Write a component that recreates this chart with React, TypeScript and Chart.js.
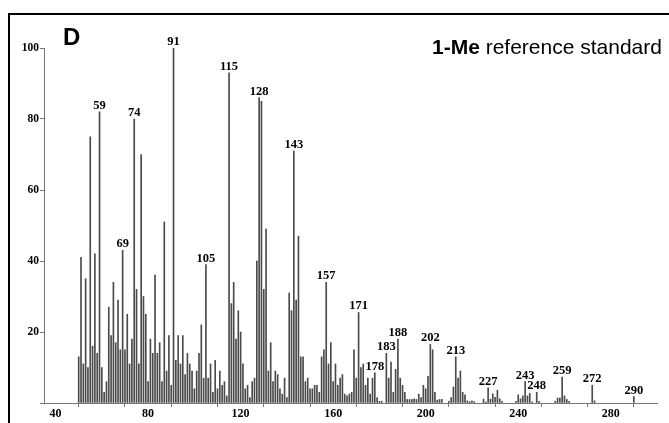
import React, { useEffect, useRef } from "react";
import { Chart, registerables } from "chart.js";

Chart.register(...registerables);

// m/z values and relative abundances (%)
const mz = [
  50, 51, 52, 53, 54, 55, 56, 57, 58, 59, 60, 61, 62, 63, 64, 65, 66, 67, 68, 69,
  70, 71, 72, 73, 74, 75, 76, 77, 78, 79, 80, 81, 82, 83, 84, 85, 86, 87, 88, 89,
  90, 91, 92, 93, 94, 95, 96, 97, 98, 99, 100, 101, 102, 103, 104, 105, 106, 107, 108, 109,
  110, 111, 112, 113, 114, 115, 116, 117, 118, 119, 120, 121, 122, 123, 124, 125, 126, 127, 128, 129,
  130, 131, 132, 133, 134, 135, 136, 137, 138, 139, 140, 141, 142, 143, 144, 145, 146, 147, 148, 149,
  150, 151, 152, 153, 154, 155, 156, 157, 158, 159, 160, 161, 162, 163, 164, 165, 166, 167, 168, 169,
  170, 171, 172, 173, 174, 175, 176, 177, 178, 179, 180, 181, 183, 184, 185, 186, 187, 188, 189,
  190, 191, 192, 193, 194, 195, 196, 197, 198, 199, 200, 201, 202, 203, 204, 205, 206, 207,
  210, 211, 212, 213, 214, 215, 216, 217, 218, 219, 220, 221,
  225, 226, 227, 228, 229, 230, 231, 232, 233,
  239, 240, 241, 242, 243, 244, 245, 246, 248, 249,
  256, 257, 258, 259, 260, 261, 262, 272, 273, 290,
];

const abundance = [
  13, 41, 11, 35, 10, 75, 16, 42, 14, 82, 10, 3, 6, 27, 19, 34, 17, 29, 15, 43,
  15, 25, 11, 18, 80, 32, 11, 70, 30, 25, 6, 18, 14, 36, 14, 17, 6, 51, 9, 19,
  5, 100, 12, 19, 11, 19, 8, 14, 11, 9, 4, 9, 14, 22, 7, 39, 7, 11, 3, 12,
  4, 9, 5, 6, 2, 93, 28, 34, 18, 26, 20, 11, 4, 5, 1.5, 6, 7, 40, 86, 85,
  32, 49, 9, 17, 6, 9, 8, 4, 2.5, 7, 1.5, 31, 26, 71, 29, 47, 13, 13, 6, 7,
  4, 4, 5, 5, 3, 13, 15, 34, 11, 17, 6, 11, 5, 7, 8, 2.5, 2, 2.5, 3, 15,
  7, 25.5, 10, 11, 5, 7, 2.5, 7, 8.5, 1.5, 0.5, 0.5, 14, 7, 11.5, 3, 9.5, 18, 7,
  5, 3, 1, 1, 1, 1.2, 1, 2.5, 1.5, 5, 4, 7.5, 16.5, 15, 3, 0.8, 1, 1,
  0.5, 1.5, 4.5, 13, 7, 9, 3, 2.3, 0.6, 0.4, 0.6, 0.4,
  1.1, 0.3, 4.3, 1.1, 2.6, 1.6, 3.6, 1.2, 0.5,
  0.5, 2.3, 1.2, 2, 6, 2, 2.7, 0.3, 3, 0.5,
  0.5, 1.4, 1.4, 7.3, 2, 1, 0.5, 5, 0.6, 1.8,
];

const labeledMz = [59, 69, 74, 91, 105, 115, 128, 143, 157, 171, 178, 183, 188, 202, 213, 227, 243, 248, 259, 272, 290];
const xTickLabels = [40, 80, 120, 160, 200, 240, 280];
const yTickLabels = [20, 40, 60, 80, 100];
const panelLetter = "D";
const titleBold = "1-Me";
const titleRest = " reference standard";

const serif = "'Liberation Serif', 'Times New Roman', serif";
const sans = "'Liberation Sans', Arial, sans-serif";

export default function App() {
  const ref = useRef<HTMLCanvasElement>(null);

  useEffect(() => {
    const peakLabelPlugin = {
      id: "peakLabels",
      afterDatasetsDraw(chart: any) {
        const ctx = chart.ctx;
        const meta = chart.getDatasetMeta(0);
        ctx.save();
        ctx.font = `bold 12.5px ${serif}`;
        ctx.fillStyle = "#000";
        ctx.textAlign = "center";
        ctx.textBaseline = "alphabetic";
        labeledMz.forEach((m) => {
          const i = mz.indexOf(m);
          if (i < 0) return;
          const el = meta.data[i];
          ctx.fillText(String(m), el.x, el.y - 3);
        });
        ctx.restore();
      },
    };

    const framePlugin = {
      id: "frame",
      afterDraw(chart: any) {
        const ctx = chart.ctx;
        ctx.save();
        ctx.strokeStyle = "#000";
        ctx.lineWidth = 2;
        ctx.beginPath();
        ctx.moveTo(9, 423);
        ctx.lineTo(9, 14);
        ctx.lineTo(669, 14);
        ctx.stroke();

        ctx.fillStyle = "#000";
        ctx.textBaseline = "alphabetic";
        ctx.textAlign = "left";
        ctx.font = `bold 24px ${sans}`;
        ctx.fillText(panelLetter, 63, 45);

        ctx.font = `bold 21px ${sans}`;
        const x0 = 432;
        ctx.fillText(titleBold, x0, 54);
        const w = ctx.measureText(titleBold).width;
        ctx.font = `21px ${sans}`;
        ctx.fillText(titleRest, x0 + w, 54);
        ctx.restore();
      },
    };

    const chart = new Chart(ref.current as HTMLCanvasElement, {
      type: "bar",
      data: {
        datasets: [
          {
            data: mz.map((m, i) => ({ x: m, y: abundance[i] })),
            backgroundColor: "#4a4a4a",
            borderWidth: 0,
            barThickness: 1,
          } as any,
        ],
      },
      options: {
        responsive: false,
        animation: false,
        events: [],
        layout: { padding: { top: 48, right: 12, left: 0, bottom: 0 } },
        plugins: { legend: { display: false }, tooltip: { enabled: false }, title: { display: false } },
        scales: {
          x: {
            type: "linear",
            min: 35,
            max: 300,
            offset: false,
            afterFit: (s: any) => {
              s.height = 20;
            },
            ticks: {
              stepSize: 20,
              includeBounds: false,
              autoSkip: false,
              maxRotation: 0,
              padding: 0,
              color: "#000",
              font: { family: serif, size: 12, weight: "bold" },
              callback: (v: any) => (xTickLabels.includes(Number(v)) ? String(v) : ""),
            },
            grid: { drawOnChartArea: false, drawTicks: true, tickLength: 4, color: "#777" },
            border: { display: true, color: "#777", width: 1 },
          },
          y: {
            min: 0,
            max: 100,
            afterFit: (s: any) => {
              s.width = 44;
            },
            ticks: {
              stepSize: 20,
              padding: 1,
              color: "#000",
              font: { family: serif, size: 11.5, weight: "bold" },
              callback: (v: any) => (yTickLabels.includes(Number(v)) ? String(v) : ""),
            },
            grid: { drawOnChartArea: false, drawTicks: true, tickLength: 4, color: "#777" },
            border: { display: true, color: "#777", width: 1 },
          },
        },
      } as any,
      plugins: [peakLabelPlugin, framePlugin],
    });

    return () => chart.destroy();
  }, []);

  return (
    <div style={{ position: "fixed", left: 0, top: 0, width: 669, height: 423, background: "#fff" }}>
      <canvas ref={ref} width={669} height={423} style={{ display: "block", width: 669, height: 423 }} />
    </div>
  );
}
